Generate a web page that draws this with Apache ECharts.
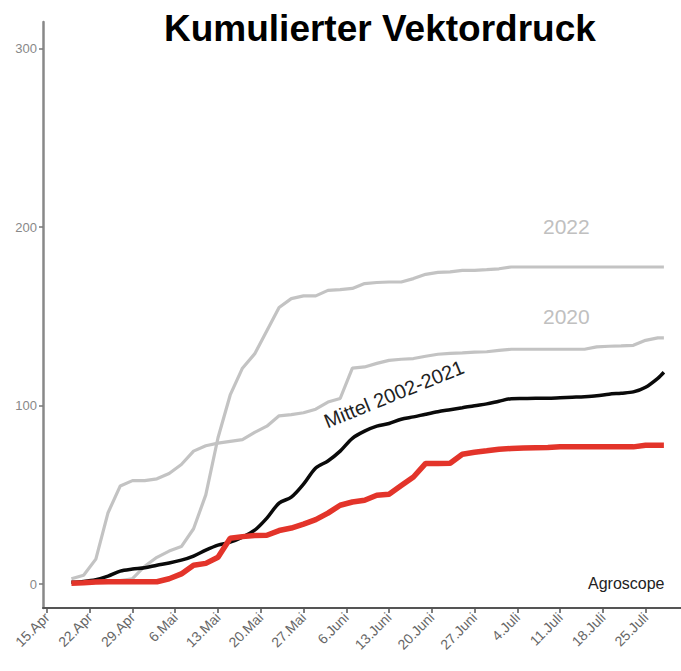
<!DOCTYPE html>
<html>
<head>
<meta charset="utf-8">
<script src="https://cdn.jsdelivr.net/npm/echarts@6/dist/echarts.min.js"></script>
<style>html,body{margin:0;padding:0;background:#fff;}#c{width:681px;height:671px;}</style>
</head>
<body>
<div id="c"></div>
<script>
// Days since 15.Apr (axis index)
const days = [4,6,8,10,12,14,16,18,20,22,24,26,28,30,32,34,36,38,40,42,44,46,48,50,52,54,56,58,60,62,64,66,68,70,72,74,76,78,80,82,84,86,88,90,92,94,96,98,100,101];

const tickDays = [0,7,14,21,28,35,42,49,56,63,70,77,84,91,98];
const tickLabels = ['15.Apr','22.Apr','29.Apr','6.Mai','13.Mai','20.Mai','27.Mai','6.Juni','13.Juni','20.Juni','27.Juni','4.Juli','11.Juli','18.Juli','25.Juli'];
const yTicks = [0,100,200,300];

const year2020 = [3,5,14,40,55,58,58,59,62,67,74.5,77.5,79,80,81,85,88.5,94.3,95,96,98,102,104,121,121.7,123.7,125.4,126,126.4,127.7,128.8,129.3,129.6,130,130.2,131,131.6,131.6,131.6,131.6,131.6,131.6,131.6,132.9,133.3,133.5,133.8,136.6,138,138];

const year2022 = [1,1,1.5,2,2,3,10,15,18.5,21,31,50,82,106,121,129,142,155,160,161.5,161.5,164.6,165,165.7,168.4,169,169.3,169.3,171.2,173.6,174.7,175,175.8,175.8,176.2,176.7,177.7,177.7,177.7,177.7,177.7,177.7,177.7,177.7,177.7,177.7,177.7,177.7,177.7,177.7];

const mittel = [1,1.5,2.5,4.5,7.3,8.4,9.2,10.6,11.8,13.4,15.7,19,21.8,23.5,26.3,30.2,37,45.4,48.7,56,65,69,74.5,81.7,85.7,88.5,90,92.4,93.7,95.2,96.6,97.7,98.8,100,101,102.5,103.9,104,104.1,104.1,104.4,104.7,105,105.5,106.4,107,107.7,110.3,115.3,118.7];

const current = [0.5,0.8,1.2,1.3,1.3,1.3,1.3,1.3,3,5.7,10.6,11.6,15,25.7,26.6,27.2,27.4,30,31.4,33.6,36.1,39.8,44.2,46,47,49.8,50.4,55.2,60,67.6,67.6,67.7,72.8,73.9,74.7,75.6,76,76.2,76.4,76.6,76.9,76.9,76.9,76.9,76.9,76.9,76.9,77.8,77.8,77.8];

function pairs(vals){ return days.map((d,i)=>[d, vals[i]]); }

const chart = echarts.init(document.getElementById('c'), null, {renderer:'svg'});
const font = 'Liberation Sans, Arial, sans-serif';
chart.setOption({
  animation:false,
  backgroundColor:'#fff',
  title:{
    text:'Kumulierter Vektordruck',
    left:159, top:5,
    textStyle:{fontSize:37, fontWeight:'bold', color:'#000', fontFamily:font}
  },
  grid:{left:43, right:0, top:22, bottom:63},
  xAxis:{
    type:'value', min:-0.65, max:103.8,
    axisLine:{show:true, onZero:false, lineStyle:{color:'#555', width:2}},
    axisTick:{show:true, customValues:tickDays, length:5, lineStyle:{color:'#555', width:1.5}},
    axisLabel:{customValues:tickDays, rotate:45, margin:7, color:'#666', fontSize:14, fontFamily:font,
      formatter:function(v){ const i = tickDays.indexOf(Math.round(v)); return i>=0 ? tickLabels[i] : ''; }},
    splitLine:{show:false}
  },
  yAxis:{
    type:'value', min:-13.4, max:315,
    axisLine:{show:true, onZero:false, lineStyle:{color:'#888', width:2.5}},
    axisTick:{show:true, customValues:yTicks, length:4, lineStyle:{color:'#777', width:1.5}},
    axisLabel:{customValues:yTicks, margin:6, color:'#888', fontSize:13, fontFamily:font},
    splitLine:{show:false}
  },
  series:[
    {name:'2022', type:'line', data:pairs(year2022), showSymbol:false, lineStyle:{color:'#c3c3c3', width:3.2}, z:2},
    {name:'2020', type:'line', data:pairs(year2020), showSymbol:false, lineStyle:{color:'#c3c3c3', width:3.2}, z:2},
    {name:'Mittel 2002-2021', type:'line', data:pairs(mittel), showSymbol:false, smooth:0.3, lineStyle:{color:'#0a0a0a', width:3.5}, z:3},
    {name:'2023', type:'line', data:pairs(current), showSymbol:false, lineStyle:{color:'#e3342a', width:5.5}, z:4}
  ],
  graphic:[
    {type:'text', left:543, top:216, style:{text:'2022', fontSize:21, fill:'#c0c0c0', fontFamily:font}},
    {type:'text', left:543, top:306, style:{text:'2020', fontSize:21, fill:'#c0c0c0', fontFamily:font}},
    {type:'text', x:394, y:394, rotation:22*Math.PI/180, style:{text:'Mittel 2002-2021', fontSize:20, fill:'#222', fontFamily:font, align:'center', verticalAlign:'middle'}},
    {type:'text', left:588, top:575, style:{text:'Agroscope', fontSize:16, fill:'#222', fontFamily:font}}
  ]
});
</script>
</body>
</html>
